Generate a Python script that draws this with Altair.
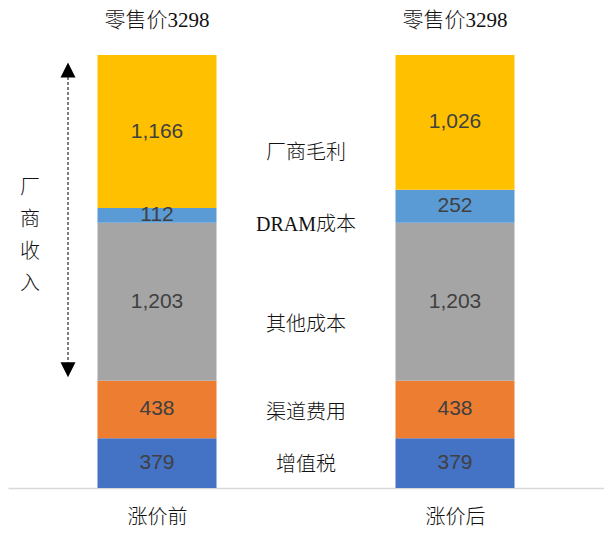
import altair as alt
import pandas as pd

stages = ["涨价前", "涨价后"]
x_domain = ["涨价前", " ", "涨价后"]
components = ["增值税", "渠道费用", "其他成本", "DRAM成本", "厂商毛利"]
before = [379, 438, 1203, 112, 1166]
after = [379, 438, 1203, 252, 1026]
colors = ["#4472C4", "#ED7D31", "#A5A5A5", "#5B9BD5", "#FFC000"]
# vertical anchor (in value units) of the category names in the middle column
mid_label_y = [175, 571, 1241, 2003, 2552]
retail_price = 3298

rows = []
for stage, vals in zip(stages, [before, after]):
    cum = 0
    for comp, v in zip(components, vals):
        rows.append({"stage": stage, "comp": comp, "value": v,
                     "start": cum, "end": cum + v, "mid": cum + v / 2})
        cum += v
bars_df = pd.DataFrame(rows)

tops_df = pd.DataFrame({"stage": stages, "total": [retail_price] * 2,
                        "label": [f"零售价{retail_price}"] * 2})
mid_df = pd.DataFrame({"stage": [" "] * len(components), "comp": components, "y": mid_label_y})

rev_bottom = before[0] + before[1]
arrow_df = pd.DataFrame({"top": [retail_price], "bottom": [rev_bottom],
                         "center": [(retail_price + rev_bottom) / 2],
                         "txt": ["厂\n商\n收\n入"]})

cjk_serif = "Liberation Serif, Noto Sans CJK SC"

xenc = alt.X("stage:N", scale=alt.Scale(type="point", domain=x_domain, padding=1),
             axis=alt.Axis(title=None, ticks=False, domainColor="#D9D9D9", domainWidth=1.5,
                           labelFont="Noto Sans CJK SC", labelFontSize=20, labelColor="#111111",
                           labelFontWeight=300, labelPadding=19, labelAngle=0))
yscale = alt.Scale(domain=[0, retail_price], nice=False, zero=True)

bars = alt.Chart(bars_df).mark_bar(size=119).encode(
    x=xenc,
    y=alt.Y("start:Q", scale=yscale, axis=None),
    y2="end:Q",
    color=alt.Color("comp:N", scale=alt.Scale(domain=components, range=colors), legend=None),
)

values = alt.Chart(bars_df).mark_text(font="Liberation Sans", fontSize=21, color="#404040",
                                      baseline="middle").encode(
    x=alt.X("stage:N"),
    y=alt.Y("mid:Q"),
    text=alt.Text("value:Q", format=","),
)

tops = alt.Chart(tops_df).mark_text(font=cjk_serif, fontSize=21, fontWeight=300, color="#111111",
                                    baseline="middle", dy=-34).encode(
    x="stage:N", y="total:Q", text="label:N")

mids = alt.Chart(mid_df).mark_text(font=cjk_serif, fontSize=20, fontWeight=300, color="#111111",
                                   baseline="middle").encode(
    x="stage:N", y="y:Q", text="comp:N")

rule = alt.Chart(arrow_df).mark_rule(color="black", strokeDash=[3, 2], strokeWidth=1,
                                     yOffset=12, y2Offset=-10).encode(
    x=alt.value(60), y="top:Q", y2="bottom:Q")

head_up = alt.Chart(arrow_df).mark_point(shape="M0,-1L-1,1L1,1Z", filled=True, size=225,
                                         color="black", opacity=1, yOffset=15).encode(
    x=alt.value(60), y="top:Q")
head_down = alt.Chart(arrow_df).mark_point(shape="M0,1L-1,-1L1,-1Z", filled=True, size=225,
                                           color="black", opacity=1, yOffset=-11).encode(
    x=alt.value(60), y="bottom:Q")

side = alt.Chart(arrow_df).mark_text(font="Noto Sans CJK SC", fontSize=20, fontWeight=300,
                                     color="#111111", lineBreak="\n", lineHeight=32,
                                     baseline="middle", yOffset=-30).encode(
    x=alt.value(22), y="center:Q", text="txt:N")

chart = alt.layer(bars, values, tops, mids, rule, head_up, head_down, side).properties(
    width=596, height=433,
    autosize=alt.AutoSizeParams(type="none"),
    padding={"left": 0, "top": 47, "right": 0, "bottom": 45},
).configure_view(stroke=None)

chart.save("out.html", embed_options={"renderer": "svg", "actions": False})
